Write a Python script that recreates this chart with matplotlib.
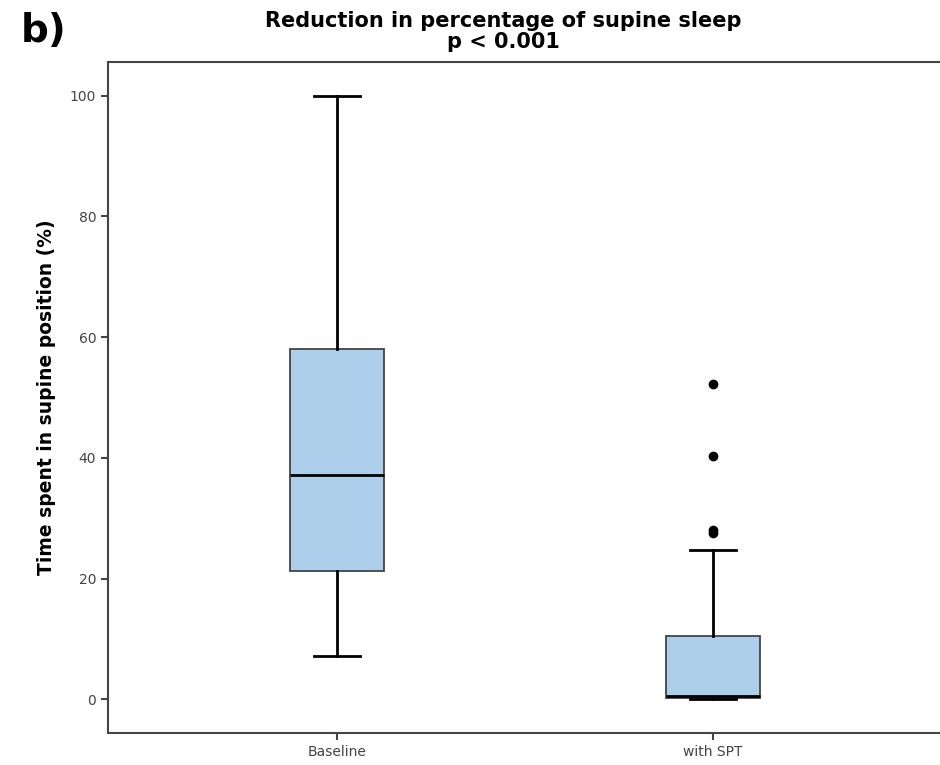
import matplotlib
matplotlib.use("Agg")
import matplotlib.pyplot as plt

# values
groups = ["Baseline", "with SPT"]
whislo = [7.1, 0.0]
q1 = [21.2, 0.2]
med = [37.1, 0.5]
q3 = [58.0, 10.4]
whishi = [100.0, 24.7]
outliers = [[], [27.5, 28.0, 40.3, 52.2]]

stats = []
for i, g in enumerate(groups):
    stats.append({"label": g, "whislo": whislo[i], "q1": q1[i], "med": med[i],
                  "q3": q3[i], "whishi": whishi[i], "fliers": outliers[i]})

fig = plt.figure(figsize=(9.4, 7.65), dpi=100)
ax = fig.add_axes([108/940, 32/765, 1 - 108/940, (733-62)/765])

ax.bxp(stats, positions=[1, 2], widths=0.25, patch_artist=True,
       boxprops=dict(facecolor="#aecfec", edgecolor="#444444", linewidth=1.3),
       medianprops=dict(color="black", linewidth=2),
       whiskerprops=dict(color="black", linewidth=2),
       capprops=dict(color="black", linewidth=2),
       capwidths=0.122,
       flierprops=dict(marker="o", markerfacecolor="black", markeredgecolor="black", markersize=6))

ax.set_xlim(0.391, 2.604)
ax.set_ylim(-5.6, 105.6)
ax.set_yticks([0, 20, 40, 60, 80, 100])
ax.spines["right"].set_visible(False)
for s in ["left", "top", "bottom"]:
    ax.spines[s].set_linewidth(1.5)
    ax.spines[s].set_color("#444444")
ax.tick_params(axis="both", labelsize=10, colors="#444444", width=1.5, length=5)
ax.set_ylabel("Time spent in supine position (%)", fontsize=13.5, fontweight="bold", labelpad=10)
fig.text(503/940, 1 - 21/765, "Reduction in percentage of supine sleep", fontsize=15,
         fontweight="bold", ha="center", va="center")
fig.text(503/940, 1 - 42/765, "p < 0.001", fontsize=15,
         fontweight="bold", ha="center", va="center")
fig.text(0.022, 0.945, "b)", fontsize=28, fontweight="bold")

fig.savefig("out.png")
